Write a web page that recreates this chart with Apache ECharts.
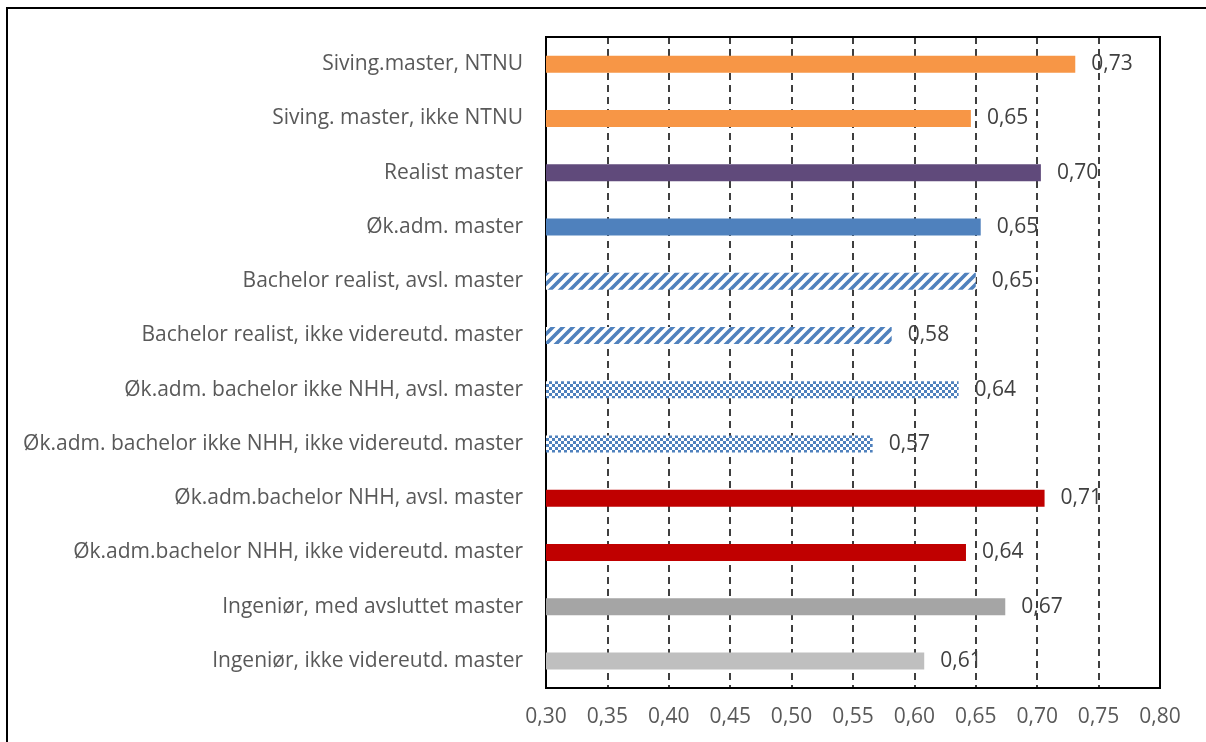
<!DOCTYPE html>
<html><head><meta charset="utf-8">
<script src="https://cdn.jsdelivr.net/npm/echarts@6/dist/echarts.min.js"></script>
<style>html,body{margin:0;padding:0;background:#fff}#c{width:1206px;height:742px}</style>
</head><body><div id="c"></div>
<script>
const categories = [
  "Siving.master, NTNU",
  "Siving. master, ikke NTNU",
  "Realist master",
  "Øk.adm. master",
  "Bachelor realist, avsl. master",
  "Bachelor realist, ikke videreutd. master",
  "Øk.adm. bachelor ikke NHH, avsl. master",
  "Øk.adm. bachelor ikke NHH, ikke videreutd. master",
  "Øk.adm.bachelor NHH, avsl. master",
  "Øk.adm.bachelor NHH, ikke videreutd. master",
  "Ingeniør, med avsluttet master",
  "Ingeniør, ikke videreutd. master"
];
const values = [0.731, 0.646, 0.703, 0.654, 0.650, 0.5815, 0.636, 0.566, 0.706, 0.642, 0.674, 0.608];
const barColors = ["#F79646","#F79646","#604A7B","#4F81BD","stripe","stripe","check","check","#C00000","#C00000","#A5A5A5","#BFBFBF"];
const xTicks = [0.30,0.35,0.40,0.45,0.50,0.55,0.60,0.65,0.70,0.75,0.80];

function stripePattern(){
  const c = document.createElement('canvas'); c.width = 10; c.height = 10;
  const g = c.getContext('2d');
  g.fillStyle = '#fff'; g.fillRect(0,0,10,10);
  g.strokeStyle = '#4F81BD'; g.lineWidth = 3.6;
  g.beginPath();
  g.moveTo(-2,12); g.lineTo(12,-2);
  g.moveTo(-7,7); g.lineTo(7,-7);
  g.moveTo(3,17); g.lineTo(17,3);
  g.stroke();
  return {image: c, repeat: 'repeat'};
}
function checkPattern(){
  const c = document.createElement('canvas'); c.width = 6; c.height = 6;
  const g = c.getContext('2d');
  g.fillStyle = '#fff'; g.fillRect(0,0,6,6);
  g.fillStyle = '#4F81BD';
  g.fillRect(0,0,3,3); g.fillRect(3,3,3,3);
  return {image: c, repeat: 'repeat'};
}
function colorFor(k){
  if (k === 'stripe') return stripePattern();
  if (k === 'check') return checkPattern();
  return k;
}
const fmt = v => v.toFixed(2).replace('.', ',');
const font = '"Open Sans", Lato, sans-serif';

const chart = echarts.init(document.getElementById('c'), null, {renderer:'canvas'});
chart.setOption({
  animation: false,
  backgroundColor: '#fff',
  graphic: [{
    type: 'rect', shape: {x: 7, y: 8, width: 1400, height: 900},
    style: {fill: null, stroke: '#000', lineWidth: 2}, z: 0
  }],
  grid: {left: 546, right: 46, top: 37, bottom: 54, show: true, borderColor: '#000', borderWidth: 2, backgroundColor: 'transparent'},
  xAxis: {
    type: 'value', min: 0.30, max: 0.80, interval: 0.05,
    axisLine: {show: false}, axisTick: {show: false},
    splitLine: {show: true, lineStyle: {color: '#000', type: [7,5], width: 1.5}},
    axisLabel: {color: '#595959', fontSize: 21, fontFamily: font, margin: 19,
      formatter: v => fmt(v)}
  },
  yAxis: {
    type: 'category', data: categories, inverse: true,
    axisLine: {show: true, lineStyle: {color: '#000', width: 2}},
    axisTick: {show: false},
    axisLabel: {color: '#595959', fontSize: 21, fontFamily: font, margin: 23}
  },
  series: [{
    type: 'bar', barWidth: 17, z: 3,
    data: values.map((v,i) => ({value: v, itemStyle: {color: colorFor(barColors[i])}})),
    label: {show: true, position: 'right', distance: 16, color: '#404040', fontSize: 21, fontFamily: font,
      formatter: p => fmt(p.value)}
  }]
});
</script></body></html>
